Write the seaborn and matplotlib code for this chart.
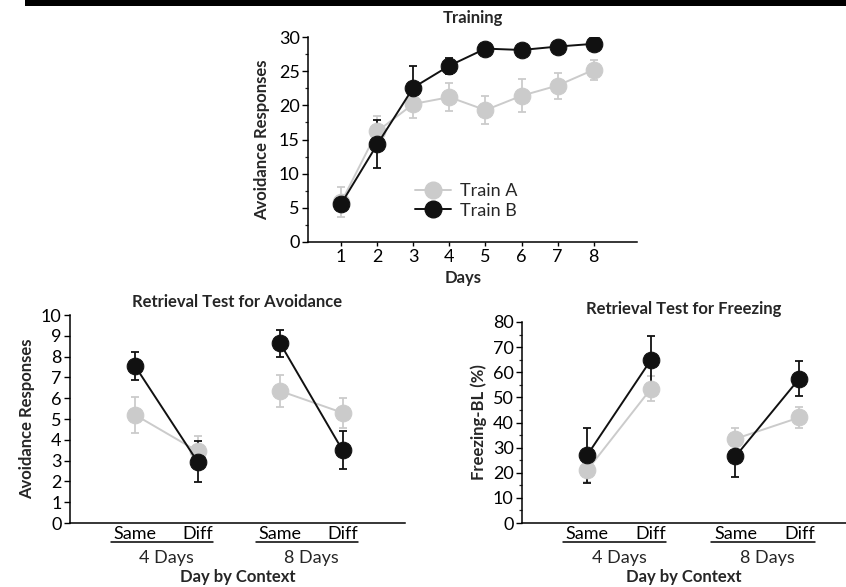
import numpy as np
import pandas as pd
import matplotlib
matplotlib.use("Agg")
import matplotlib.pyplot as plt
import matplotlib.transforms as mtransforms
from matplotlib.patches import Rectangle
from matplotlib.lines import Line2D
import seaborn as sns

# ---------------- data ----------------
days = [1, 2, 3, 4, 5, 6, 7, 8]
train_a = [5.8, 16.2, 20.2, 21.2, 19.3, 21.4, 22.9, 25.2]
train_a_err = [2.2, 2.2, 2.0, 2.1, 2.1, 2.4, 1.9, 1.5]
train_b = [5.6, 14.3, 22.6, 25.8, 28.3, 28.1, 28.6, 29.0]
train_b_err = [0.6, 3.5, 3.2, 1.2, 0.4, 0.4, 0.4, 0.4]

context_labels = ["Same", "Diff", "Same", "Diff"]
group_labels = ["4 Days", "8 Days"]
groups = ["4 Days", "4 Days", "8 Days", "8 Days"]

avoid_a = [5.2, 3.45, 6.35, 5.3]
avoid_a_err = [0.85, 0.75, 0.75, 0.72]
avoid_b = [7.55, 2.95, 8.65, 3.5]
avoid_b_err = [0.68, 0.98, 0.65, 0.9]

freeze_a = [21.0, 53.5, 33.5, 42.0]
freeze_a_err = [4.5, 5.0, 4.5, 4.0]
freeze_b = [27.0, 65.0, 26.5, 57.5]
freeze_b_err = [11.0, 9.5, 8.0, 6.8]

series_names = ["Train A", "Train B"]

# ---------------- style ----------------
sns.set_theme(style="ticks")
plt.rcParams["font.family"] = ["Lato", "DejaVu Sans"]
GREY = "#cbcbcb"
BLACK = "#111111"
colors = {"Train A": GREY, "Train B": BLACK}
MS = 12
FS = 13      # tick / plain text
FSB = 12     # bold labels / titles

fig = plt.figure(figsize=(8.46, 5.87), dpi=100)
W, H = 846, 587

def ax_px(l, r, t, b):
    return fig.add_axes([l / W, 1 - b / H, (r - l) / W, (b - t) / H])

ax_top = ax_px(308, 637, 37, 242)
ax_l = ax_px(70, 405, 315, 523)
ax_r = ax_px(522, 846, 322, 523)

for ax in (ax_top, ax_l, ax_r):
    sns.despine(ax=ax)
    for s in ("left", "bottom"):
        ax.spines[s].set_linewidth(1.1)
        ax.spines[s].set_color("black")
    ax.tick_params(axis="both", direction="out", length=4, width=1, labelsize=FS,
                   pad=2, colors="black")
    ax.tick_params(which="minor", length=2.2, width=0.9)

def draw_series(ax, x, y, err, color, units=None):
    ax.errorbar(x, y, yerr=err, fmt="none", ecolor=color, elinewidth=1.3,
                capsize=3.2, capthick=1.3, zorder=2)
    df = pd.DataFrame({"x": x, "y": y})
    if units is not None:
        df["u"] = units
        sns.lineplot(data=df, x="x", y="y", units="u", estimator=None, ax=ax,
                     color=color, marker="o", markersize=MS, markeredgecolor=color,
                     lw=1.4, legend=False, zorder=3)
    else:
        sns.lineplot(data=df, x="x", y="y", ax=ax, color=color, marker="o",
                     markersize=MS, markeredgecolor=color, lw=1.4, legend=False,
                     zorder=3)

# ---------------- top: Training ----------------
draw_series(ax_top, days, train_a, train_a_err, GREY)
draw_series(ax_top, days, train_b, train_b_err, BLACK)
ax_top.set_xlim(0.08, 9.2)
ax_top.set_ylim(0, 30)
ax_top.set_xticks(days)
ax_top.set_yticks(np.arange(0, 31, 5))
ax_top.set_yticks(np.arange(0, 30.1, 2.5), minor=True)
ax_top.tick_params(axis="x", length=3)
ax_top.set_title("Training", fontsize=FSB, fontweight="bold", pad=10)
ax_top.set_xlabel("Days", fontsize=FSB, fontweight="bold")
ax_top.xaxis.set_label_coords(0.47, -0.135)
ax_top.set_ylabel("Avoidance Responses", fontsize=FSB, fontweight="bold", labelpad=6)
handles = [Line2D([], [], color=colors[n], marker="o", markersize=MS,
                  markeredgecolor=colors[n], lw=1.4) for n in series_names]
ax_top.legend(handles, series_names, frameon=False, fontsize=FS, loc="center",
              bbox_to_anchor=(0.48, 0.2), handlelength=2.0, handletextpad=0.5,
              labelspacing=0.2)

# ---------------- bottom panels ----------------
pos = [0, 1, 2.32, 3.32]

def bottom_panel(ax, ya, ea, yb, eb, ylim, major, minor, title, ylabel, xlim):
    draw_series(ax, pos, ya, ea, GREY, units=groups)
    draw_series(ax, pos, yb, eb, BLACK, units=groups)
    ax.set_xlim(*xlim)
    ax.set_ylim(*ylim)
    ax.set_yticks(major)
    if minor is not None:
        ax.set_yticks(minor, minor=True)
    ax.set_xticks(pos)
    ax.set_xticklabels(context_labels)
    ax.tick_params(axis="x", length=0, pad=2)
    ax.set_title(title, fontsize=FSB, fontweight="bold", pad=6)
    ax.set_ylabel(ylabel, fontsize=FSB, fontweight="bold", labelpad=4)
    ax.set_xlabel("Day by Context", fontsize=FSB, fontweight="bold")
    hpx = ax.get_position().height * H
    ax.xaxis.set_label_coords(0.5, -46 / hpx)
    trans = mtransforms.blended_transform_factory(ax.transData, ax.transAxes)
    for g, start in zip(group_labels, (pos[0], pos[2])):
        ax.plot([start - 0.38, start + 1.24], [-19 / hpx, -19 / hpx], color="black",
                lw=1.1, transform=trans, clip_on=False)
        ax.text(start + 0.5, -35 / hpx, g, transform=trans, ha="center", va="center",
                fontsize=FS)

bottom_panel(ax_l, avoid_a, avoid_a_err, avoid_b, avoid_b_err, (0, 10),
             np.arange(0, 11, 1), None, "Retrieval Test for Avoidance",
             "Avoidance Responses", (-1.04, 4.32))
bottom_panel(ax_r, freeze_a, freeze_a_err, freeze_b, freeze_b_err, (0, 80),
             np.arange(0, 81, 10), np.arange(0, 81, 5), "Retrieval Test for Freezing",
             "Freezing-BL (%)", (-1.02, 4.05))

# black band at the top (cropped header)
fig.add_artist(Rectangle((25 / W, 1 - 6 / H), 1 - 25 / W, 6 / H, transform=fig.transFigure,
                         color="black", lw=0))

fig.savefig("out.png", dpi=100)
